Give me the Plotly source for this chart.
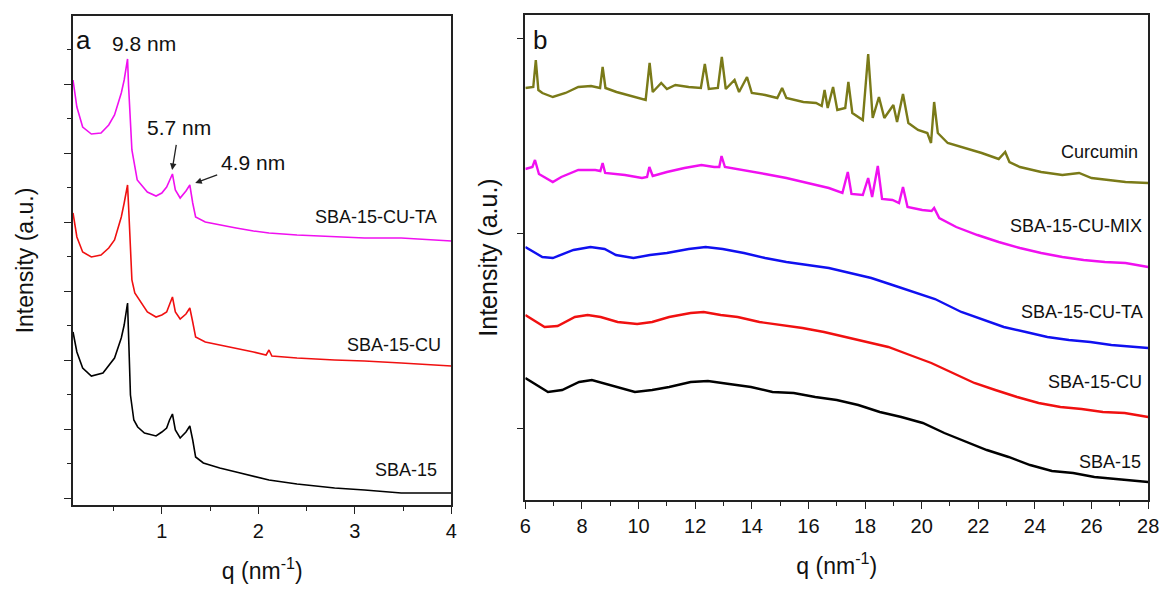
import plotly.graph_objects as go

# ---------------- Panel a data (q in nm^-1, intensity in arbitrary units, curves offset) ----------------
qa_sba15 = [0.08, 0.12, 0.18, 0.27, 0.39, 0.45, 0.51, 0.58, 0.61, 0.645, 0.655, 0.675, 0.71, 0.75, 0.82,
            0.94, 1.0, 1.05, 1.08, 1.11, 1.14, 1.19, 1.25, 1.29, 1.32, 1.35, 1.43, 1.6, 1.77, 1.95, 2.11,
            2.4, 2.79, 3.1, 3.48, 3.8, 4.0]
ia_sba15 = [173, 153, 137, 129, 132, 139, 147, 167, 180, 202, 175, 110, 85, 78, 72,
            69, 73, 77, 85, 91, 75, 67, 73, 79, 65, 48, 42, 37, 33, 29, 25,
            21, 17, 15, 12, 12, 12]

qa_cu = [0.08, 0.12, 0.18, 0.27, 0.37, 0.45, 0.51, 0.58, 0.61, 0.645, 0.655, 0.675, 0.69, 0.72, 0.85,
         0.94, 1.0, 1.05, 1.08, 1.11, 1.14, 1.19, 1.25, 1.29, 1.32, 1.35, 1.45, 1.6, 1.77, 1.95, 2.08,
         2.11, 2.14, 2.4, 2.79, 3.1, 3.48, 3.8, 4.0]
ia_cu = [292, 268, 253, 248, 250, 257, 265, 288, 302, 320, 300, 255, 225, 212, 193,
         188, 190, 193, 200, 208, 193, 186, 191, 197, 183, 168, 163, 160, 157, 153, 150,
         155, 149, 147, 145, 144, 142, 140, 139]

qa_cuta = [0.08, 0.12, 0.18, 0.27, 0.37, 0.45, 0.51, 0.58, 0.61, 0.645, 0.655, 0.675, 0.69, 0.745, 0.85,
           0.94, 1.0, 1.05, 1.08, 1.11, 1.14, 1.19, 1.25, 1.29, 1.32, 1.35, 1.45, 1.6, 1.77, 1.95, 2.11,
           2.4, 2.79, 3.1, 3.48, 3.8, 4.0]
ia_cuta = [425, 398, 378, 371, 372, 380, 390, 412, 425, 446, 420, 385, 355, 325, 313,
           309, 312, 318, 325, 331, 315, 307, 314, 320, 302, 288, 283, 280, 277, 274, 272,
           270, 268, 267, 267, 265, 264]

# ---------------- Panel b data ----------------
qb_curcumin = [6.0, 6.28, 6.37, 6.46, 6.6, 6.97, 7.42, 7.87, 8.32, 8.64, 8.73, 8.83, 9.22, 9.82, 10.25,
               10.39, 10.5, 10.8, 11.0, 11.3, 11.77, 12.2, 12.34, 12.48, 12.8, 12.94, 13.08, 13.39, 13.55,
               13.83, 14.0, 14.47, 14.9, 15.07, 15.22, 15.82, 16.27, 16.47, 16.57, 16.68, 16.87, 17.02,
               17.3, 17.41, 17.55, 17.92, 18.11, 18.27, 18.49, 18.68, 19.0, 19.13, 19.34, 19.53, 19.87,
               20.2, 20.33, 20.44, 20.57, 20.92, 21.52, 22.12, 22.72, 22.95, 23.1, 23.47, 24.22, 24.97,
               25.56, 26.0, 26.6, 27.2, 28.0]
ib_curcumin = [412, 413, 440, 410, 407, 403, 407, 413, 414, 412, 433, 412, 408, 403, 400,
               437, 408, 417, 411, 415, 413, 412, 436, 411, 412, 443, 411, 420, 408,
               423, 407, 405, 402, 412, 402, 398, 397, 394, 410, 392, 413, 390,
               392, 418, 387, 380, 446, 382, 403, 382, 395, 378, 406, 377, 370,
               367, 357, 398, 367, 357, 352, 347, 341, 348, 338, 333, 328, 325,
               327, 322, 320, 318, 317]

qb_mix = [6.0, 6.25, 6.34, 6.48, 6.97, 7.27, 7.87, 8.47, 8.65, 8.73, 8.82, 9.52, 10.12, 10.3, 10.38,
          10.5, 11.0, 11.62, 12.22, 12.67, 12.85, 12.93, 13.05, 13.72, 14.47, 15.22, 15.97, 16.72, 17.2,
          17.39, 17.52, 17.92, 18.11, 18.25, 18.45, 18.6, 18.97, 19.2, 19.34, 19.5, 20.02, 20.35, 20.44,
          20.62, 21.22, 21.97, 22.72, 23.47, 24.22, 24.97, 25.72, 26.47, 27.2, 28.0]
ib_mix = [331, 333, 340, 326, 318, 323, 330, 330, 329, 337, 327, 325, 322, 323, 333,
          324, 328, 332, 335, 333, 333, 344, 333, 330, 326, 322, 317, 312, 307,
          328, 306, 305, 322, 303, 334, 301, 300, 297, 313, 293, 290, 289, 292,
          282, 273, 265, 258, 252, 247, 243, 240, 238, 237, 233]

qb_cuta = [6.0, 6.6, 6.97, 7.7, 8.3, 8.8, 9.2, 9.82, 10.4, 11.0, 11.77, 12.37, 12.97, 13.72, 14.47,
           15.22, 15.97, 16.72, 17.47, 18.22, 18.97, 19.72, 20.47, 21.4, 22.16, 22.9, 23.68, 24.44,
           25.2, 25.96, 26.7, 28.0]
ib_cuta = [253, 243, 242, 250, 253, 251, 245, 242, 245, 247, 251, 253, 251, 247, 242,
           238, 235, 232, 227, 222, 215, 208, 201, 188, 180, 173, 168, 163,
           160, 158, 155, 152]

qb_cu = [6.0, 6.68, 7.14, 7.75, 8.2, 8.66, 9.26, 9.95, 10.48, 11.08, 11.84, 12.3, 12.9, 13.5, 14.27,
         15.03, 15.79, 16.55, 17.3, 18.06, 18.82, 19.58, 20.34, 21.1, 21.86, 22.6, 23.37, 24.13,
         24.9, 25.65, 26.4, 27.17, 28.0]
ib_cu = [185, 173, 174, 183, 185, 183, 178, 176, 178, 183, 187, 188, 185, 183, 178,
         175, 172, 168, 163, 158, 153, 145, 137, 127, 117, 110, 103, 97,
         93, 91, 88, 87, 83]

qb_sba15 = [6.0, 6.8, 7.3, 7.9, 8.35, 8.96, 9.87, 10.48, 11.08, 11.84, 12.45, 13.2, 13.97, 14.73, 15.48,
            16.24, 17.0, 17.76, 18.52, 19.28, 20.04, 20.8, 21.56, 22.3, 23.07, 23.83, 24.6, 25.35,
            26.1, 26.86, 28.0]
ib_sba15 = [122, 108, 110, 118, 120, 115, 108, 110, 113, 118, 119, 116, 113, 108, 107,
            103, 100, 95, 88, 83, 77, 67, 58, 50, 43, 35, 29, 27,
            23, 21, 18]

labels_a = ["SBA-15", "SBA-15-CU", "SBA-15-CU-TA"]
labels_b = ["SBA-15", "SBA-15-CU", "SBA-15-CU-TA", "SBA-15-CU-MIX", "Curcumin"]
xticks_b = [6, 8, 10, 12, 14, 16, 18, 20, 22, 24, 26, 28]

FONT = "Liberation Sans, Arial, sans-serif"
BLACK = "#000000"
RED = "#f01010"
MAGENTA = "#f010f0"
BLUE = "#1010f0"
OLIVE = "#7a7a18"

fig = go.Figure()
lw_a = 1.6
lw_b = 2.4
fig.add_trace(go.Scatter(x=qa_sba15, y=ia_sba15, mode="lines", line=dict(color=BLACK, width=lw_a),
                         name=labels_a[0], xaxis="x", yaxis="y"))
fig.add_trace(go.Scatter(x=qa_cu, y=ia_cu, mode="lines", line=dict(color=RED, width=lw_a),
                         name=labels_a[1], xaxis="x", yaxis="y"))
fig.add_trace(go.Scatter(x=qa_cuta, y=ia_cuta, mode="lines", line=dict(color=MAGENTA, width=lw_a),
                         name=labels_a[2], xaxis="x", yaxis="y"))

fig.add_trace(go.Scatter(x=qb_sba15, y=ib_sba15, mode="lines", line=dict(color=BLACK, width=lw_b),
                         name=labels_b[0], xaxis="x2", yaxis="y2"))
fig.add_trace(go.Scatter(x=qb_cu, y=ib_cu, mode="lines", line=dict(color=RED, width=lw_b),
                         name=labels_b[1], xaxis="x2", yaxis="y2"))
fig.add_trace(go.Scatter(x=qb_cuta, y=ib_cuta, mode="lines", line=dict(color=BLUE, width=lw_b),
                         name=labels_b[2], xaxis="x2", yaxis="y2"))
fig.add_trace(go.Scatter(x=qb_mix, y=ib_mix, mode="lines", line=dict(color=MAGENTA, width=lw_b),
                         name=labels_b[3], xaxis="x2", yaxis="y2"))
fig.add_trace(go.Scatter(x=qb_curcumin, y=ib_curcumin, mode="lines", line=dict(color=OLIVE, width=lw_b),
                         name=labels_b[4], xaxis="x2", yaxis="y2"))

W, H = 1170, 590
axis_common = dict(showline=True, linecolor="#222", linewidth=1.6, mirror=True, ticks="outside",
                   tickcolor="#222", tickwidth=1.4, ticklen=7, showgrid=False, zeroline=False,
                   tickfont=dict(family=FONT, size=20, color="#111"))
title_font = dict(family=FONT, size=23, color="#111")

fig.update_layout(
    width=W, height=H, margin=dict(l=0, r=0, t=0, b=0),
    paper_bgcolor="white", plot_bgcolor="white", showlegend=False,
    font=dict(family=FONT, color="#111"),
    xaxis=dict(axis_common, domain=[68 / W, 452 / W], range=[0.08, 4.0], tick0=0, dtick=1,
               minor=dict(dtick=0.5, tick0=0, ticklen=4, tickwidth=1.4, ticks="outside", tickcolor="#222"),
               title=dict(text="q (nm<sup>-1</sup>)", font=title_font, standoff=22), anchor="y"),
    yaxis=dict(axis_common, domain=[1 - 505 / H, 1 - 16 / H], range=[0, 489], tick0=7, dtick=69,
               showticklabels=False,
               minor=dict(dtick=34.5, tick0=7, ticklen=4, tickwidth=1.4, ticks="outside", tickcolor="#222"),
               title=dict(text="Intensity (a.u.)", font=title_font, standoff=24), anchor="x"),
    xaxis2=dict(axis_common, domain=[527 / W, 1159 / W], range=[6, 28], tickvals=xticks_b,
                minor=dict(dtick=1, tick0=0, ticklen=4, tickwidth=1.4, ticks="outside", tickcolor="#222"),
                title=dict(text="q (nm<sup>-1</sup>)", font=title_font, standoff=22), anchor="y2"),
    yaxis2=dict(axis_common, domain=[1 - 500 / H, 1 - 15 / H], range=[0, 485], tick0=72, dtick=195,
                showticklabels=False,
                title=dict(text="Intensity (a.u.)", font=dict(family=FONT, size=25, color="#111"), standoff=12),
                anchor="x2"),
)

lab_font = dict(family=FONT, size=18, color="#111")
ann_font = dict(family=FONT, size=21, color="#111")
ann = []
# panel letters
ann.append(dict(x=0.19, y=465, xref="x", yref="y", text="a", showarrow=False,
                font=dict(family=FONT, size=26, color="#111")))
ann.append(dict(x=6.52, y=460, xref="x2", yref="y2", text="b", showarrow=False,
                font=dict(family=FONT, size=26, color="#111")))
# d-spacing annotations (text with arrows pointing at the reflections)
ann.append(dict(x=0.817, y=462, xref="x", yref="y", text="9.8 nm", showarrow=False, font=ann_font))
ann.append(dict(x=1.107, y=335, ax=1.18, ay=378, xref="x", yref="y", axref="x", ayref="y",
                text="5.7 nm", font=ann_font, showarrow=True, arrowhead=2, arrowsize=1,
                arrowwidth=1.3, arrowcolor="#222", startstandoff=5))
ann.append(dict(x=1.346, y=322, ax=1.94, ay=343, xref="x", yref="y", axref="x", ayref="y",
                text="4.9 nm", font=ann_font, showarrow=True, arrowhead=2, arrowsize=1,
                arrowwidth=1.3, arrowcolor="#222", startstandoff=2))
# series labels panel a
for txt, xx, yy in zip(labels_a, [3.87, 3.91, 3.87], [35, 160, 288]):
    ann.append(dict(x=xx, y=yy, xref="x", yref="y", text=txt, showarrow=False, xanchor="right",
                    font=lab_font))
# series labels panel b
for txt, xx, yy in zip(labels_b, [27.8, 27.85, 27.88, 27.85, 27.7], [38, 118, 188, 274, 348]):
    ann.append(dict(x=xx, y=yy, xref="x2", yref="y2", text=txt, showarrow=False, xanchor="right",
                    font=lab_font))
fig.update_layout(annotations=ann)

fig.write_html("out.html", config={"displayModeBar": False},
               post_script="document.body.style.margin='0';")
